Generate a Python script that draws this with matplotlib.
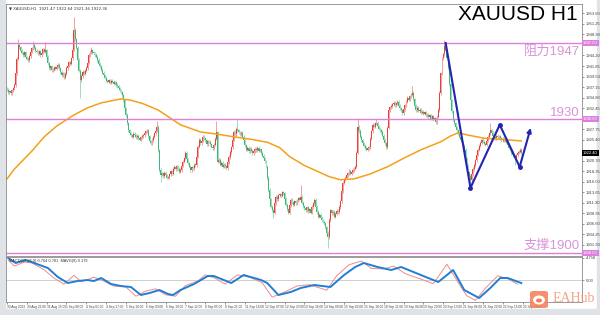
import numpy as np
import matplotlib
matplotlib.use("Agg")
from matplotlib import pyplot as plt
from matplotlib.patches import Rectangle, FancyBboxPatch, Ellipse

# hourly closes
closes = [
    1936.5, 1936.0, 1936.2, 1935.8, 1936.4, 1936.9, 1937.6, 1940.2, 1943.5, 1946.6,
    1946.0, 1945.2, 1944.8, 1944.3, 1944.9, 1943.8, 1943.5, 1943.2, 1944.1, 1945.0,
    1945.8, 1946.6, 1945.9, 1945.3, 1945.0, 1944.6, 1945.1, 1944.3, 1944.8, 1945.6,
    1945.0, 1945.4, 1943.9, 1942.5, 1941.4, 1941.8, 1940.9, 1941.0, 1941.6, 1941.2,
    1941.7, 1942.1, 1941.3, 1940.5, 1939.8, 1940.2, 1939.2, 1940.1, 1941.4, 1941.9,
    1942.7, 1942.4, 1943.6, 1945.5, 1949.9, 1947.8, 1945.9, 1943.2, 1940.8, 1938.7,
    1939.6, 1940.5, 1940.1, 1940.8, 1941.4, 1942.6, 1944.3, 1944.9, 1945.4, 1944.8,
    1944.7, 1944.3, 1943.9, 1943.2, 1942.4, 1941.8, 1941.0, 1940.3, 1939.8, 1939.2,
    1938.6, 1938.3, 1938.7, 1938.1, 1938.5, 1938.3, 1937.9, 1938.2, 1937.6, 1937.3,
    1936.9, 1936.4, 1936.0, 1935.3, 1934.2, 1932.4, 1930.9, 1929.0, 1927.5, 1926.8,
    1926.4, 1926.0, 1926.7, 1926.4, 1925.9, 1926.3, 1925.7, 1925.4, 1925.9, 1926.2,
    1926.4, 1926.9, 1927.2, 1927.5, 1926.1, 1925.0, 1924.6, 1925.3, 1926.0, 1926.8,
    1927.4, 1928.2, 1923.0, 1918.6, 1917.5, 1917.9, 1917.2, 1918.0, 1917.4, 1916.9,
    1917.0, 1917.6, 1918.3, 1917.8, 1918.9, 1919.3, 1918.7, 1919.4, 1918.9, 1918.2,
    1918.6, 1919.5, 1920.4, 1921.2, 1922.4, 1921.0, 1920.1, 1919.3, 1918.6, 1919.2,
    1919.0, 1919.8, 1919.7, 1921.6, 1923.8, 1925.3, 1924.6, 1925.1, 1926.0, 1925.7,
    1925.2, 1924.4, 1925.0, 1924.9, 1924.3, 1923.8, 1923.5, 1924.2, 1925.6, 1927.0,
    1920.4, 1920.9, 1919.8, 1920.2, 1919.3, 1919.8, 1919.4, 1919.0, 1920.3, 1921.5,
    1922.6, 1923.7, 1925.4, 1927.1, 1926.6, 1927.8, 1927.5, 1927.0, 1926.6, 1926.9,
    1926.0, 1925.2, 1924.1, 1923.1, 1923.6, 1922.8, 1923.3, 1922.9, 1922.4, 1922.8,
    1923.3, 1923.0, 1923.5, 1922.9, 1923.2, 1922.4, 1921.8, 1921.2, 1920.5, 1919.3,
    1916.8, 1914.1, 1912.0, 1910.4, 1909.6, 1909.0, 1911.2, 1912.6, 1912.0, 1912.9,
    1913.2, 1912.8, 1913.6, 1913.4, 1912.1, 1910.8, 1909.8, 1909.0, 1910.7, 1911.9,
    1911.4, 1910.8, 1911.6, 1911.2, 1911.8, 1912.3, 1911.9, 1912.6, 1911.3, 1910.5,
    1910.0, 1909.6, 1910.2, 1909.4, 1909.8, 1909.0, 1910.3, 1911.1, 1911.9, 1910.4,
    1909.2, 1908.1, 1908.6, 1907.9, 1907.3, 1907.0, 1906.7, 1905.8, 1904.6, 1903.5,
    1907.4, 1909.6, 1908.9, 1909.3, 1908.1, 1908.8, 1909.5, 1909.1, 1910.3, 1911.6,
    1913.8, 1915.7, 1916.4, 1916.9, 1917.4, 1917.9, 1918.4, 1917.8, 1918.2, 1918.6,
    1918.9, 1919.3, 1922.5, 1928.2, 1927.3, 1926.0, 1925.2, 1924.6, 1924.0, 1923.5,
    1923.1, 1923.4, 1923.7, 1925.6, 1927.2, 1928.7, 1928.3, 1929.0, 1929.1, 1928.4,
    1927.8, 1927.5, 1927.1, 1926.3, 1925.4, 1924.6, 1923.7, 1928.0, 1932.0, 1932.6,
    1932.9, 1933.3, 1933.6, 1933.1, 1933.5, 1933.8, 1933.0, 1932.4, 1931.9, 1931.3,
    1932.2, 1933.1, 1933.9, 1934.7, 1934.3, 1935.1, 1935.4, 1935.8, 1934.4, 1933.0,
    1932.0, 1932.5, 1931.8, 1932.1, 1931.4, 1931.6, 1931.2, 1931.5, 1930.8, 1930.9,
    1930.4, 1930.8, 1930.1, 1930.6, 1929.8, 1930.2, 1929.3, 1930.5, 1932.0, 1935.8,
    1940.2, 1943.6, 1944.5, 1946.4, 1945.2, 1943.6, 1941.4, 1937.8, 1934.2, 1931.7,
    1929.8, 1929.0, 1928.1, 1927.5, 1926.7, 1926.0, 1925.3, 1924.8, 1924.0, 1923.1,
    1921.2, 1919.5, 1918.1, 1917.3, 1916.4, 1917.6, 1918.8, 1919.7, 1920.8, 1922.0,
    1923.1, 1924.0, 1924.7, 1925.3, 1924.9, 1924.5, 1924.2, 1925.1, 1926.0, 1926.8,
    1927.5, 1926.9, 1926.2, 1925.8, 1925.7, 1926.3, 1925.9, 1926.1, 1925.7, 1925.2,
    1925.6, 1925.1, 1925.3, 1924.7, 1924.2, 1923.6, 1923.1, 1922.4, 1921.9, 1921.6,
    1921.3, 1921.9, 1922.5, 1922.7, 1923.1, 1922.4,
]
first_open = 1936.9
high_spikes = {9: 1947.9, 21: 1947.5, 31: 1947.3, 54: 1952.8, 68: 1946.2, 121: 1929.5,
               169: 1929.6, 186: 1930.3, 237: 1915.2, 283: 1930.3, 298: 1930.0,
               327: 1937.3, 353: 1947.6, 390: 1929.0}
low_spikes = {59: 1934.6, 124: 1916.0, 215: 1907.9, 259: 1901.1, 374: 1914.6, 410: 1919.8}

# moving average (orange)
ma_bars = [0, 6, 13, 21, 30, 40, 54, 65, 76, 92, 100, 110, 122, 140, 156, 170, 183, 196,
           210, 220, 228, 240, 248, 260, 269, 280, 292, 307, 320, 334, 350, 358, 364, 372,
           385, 400, 415]
ma_vals = [1916.6, 1918.8, 1920.8, 1923.1, 1926.0, 1928.4, 1930.9, 1932.5, 1933.6, 1934.5,
           1934.2, 1933.4, 1932.0, 1928.7, 1927.1, 1926.6, 1926.0, 1925.5, 1924.8, 1923.6,
           1921.6, 1919.6, 1918.6, 1917.1, 1916.4, 1916.6, 1917.6, 1919.3, 1921.2, 1923.1,
           1924.9, 1926.2, 1926.9, 1926.4, 1925.7, 1925.4, 1925.1]

# oscillator, blue main and pink signal
blue_bars = [1, 7, 15, 22, 33, 41, 49, 57, 65, 70, 76, 84, 92, 100, 108, 115, 123, 130,
             134, 140, 151, 162, 167, 181, 191, 205, 210, 219, 229, 237, 248, 261, 272,
             281, 288, 299, 310, 318, 328, 340, 348, 360, 369, 381, 390, 398, 404, 415]
blue_vals = [4.75, 3.67, 4.32, 3.67, 2.59, 0.65, -0.65, -0.22, 0.0, -0.22, 0.43, -0.86,
             -1.30, -1.51, -3.24, -2.81, -2.16, -3.02, -3.24, -2.16, -0.86, 0.86, 0.86,
             -0.65, 1.08, 0.0, -0.65, -3.24, -2.59, -1.73, -1.08, -1.51, 1.08, 2.81, 3.67,
             2.81, 2.16, 2.81, 1.73, 0.43, -0.43, 2.16, -2.16, -3.89, -1.73, 0.43, 0.43,
             -0.65]
pink_bars = [1, 6, 14, 20, 30, 38, 46, 54, 60, 70, 78, 86, 96, 104, 112, 120, 128, 136,
             144, 154, 160, 168, 176, 186, 196, 206, 214, 224, 234, 244, 258, 266, 276,
             286, 294, 304, 312, 322, 334, 344, 355, 364, 371, 378, 386, 396, 404, 412]
pink_vals = [4.3, 3.0, 3.9, 3.7, 2.2, 0.4, -0.9, 1.0, -0.4, 0.6, -0.2, -1.3, -1.5, -3.5,
             -2.4, -1.9, -3.2, -3.5, -1.2, -0.2, 1.1, 0.4, -0.9, 1.1, 0.6, -0.6, -3.7,
             -2.6, -1.3, -1.0, -2.2, 0.9, 3.3, 4.1, 2.5, 2.4, 3.0, 1.3, 0.2, -0.8, 3.4,
             -0.5, -3.4, -4.4, -1.8, 0.9, 0.3, -0.9]

# hand drawn zigzag
zig_bars = [354, 374, 397.6, 413.7, 422.6]
zig_vals = [1947.0, 1914.6, 1928.7, 1919.3, 1928.0]

levels = [1947, 1930, 1900]
level_texts = ["阻力1947", "1930", "支撑1900"]
level_text_y = [1945.0, 1931.4, 1901.7]

date_labels = ["30 Aug 2023", "30 Aug 22:00", "31 Aug 15:00", "1 Sep 08:00", "4 Sep 01:00",
               "4 Sep 17:00", "5 Sep 10:00", "6 Sep 03:00", "6 Sep 19:00", "7 Sep 12:00",
               "8 Sep 05:00", "8 Sep 21:00", "11 Sep 14:00", "12 Sep 07:00", "12 Sep 23:00",
               "13 Sep 16:00", "14 Sep 09:00", "15 Sep 02:00", "15 Sep 18:00", "18 Sep 11:00",
               "19 Sep 04:00", "19 Sep 20:00", "20 Sep 13:00", "21 Sep 06:00", "21 Sep 22:00",
               "22 Sep 15:00", "25 Sep 08:00"]

UP = "#e8413c"
DOWN = "#3cb878"
PINK = "#dd7fdd"
FONT = ["Liberation Sans", "Noto Sans CJK SC", "DejaVu Sans"]

plt.rcParams["font.family"] = FONT

fig = plt.figure(figsize=(6, 3.15), dpi=100)
fig.patches.append(Rectangle((0, 0), 5 / 600, 1, transform=fig.transFigure,
                             color="#dfe3e8", zorder=-1))
fig.patches.append(Rectangle((0, 0), 1, 6 / 315, transform=fig.transFigure,
                             color="#dfe3e8", zorder=-1))
fig.patches.append(Rectangle((597 / 600, 0), 3 / 600, 1, transform=fig.transFigure,
                             color="#dfe3e8", zorder=-1))

ax = fig.add_axes([6 / 600, 1 - 256 / 315, 576 / 600, 252 / 315])
ax2 = fig.add_axes([6 / 600, 1 - 302 / 315, 576 / 600, 45 / 315])

c = np.array(closes)
idx = np.arange(len(c))
o = np.r_[first_open, c[:-1]]
hi = np.maximum(o, c) + 0.35
lo = np.minimum(o, c) - 0.35
for k, v in high_spikes.items():
    hi[k] = v
for k, v in low_spikes.items():
    lo[k] = v
up = c >= o
cols = np.where(up, UP, DOWN)
ax.vlines(idx, lo, hi, colors=cols, lw=0.5, alpha=0.7)
body = np.where(np.abs(c - o) < 0.15, 0.15, c - o)
ax.bar(idx, body, bottom=o, width=0.75, color=cols, linewidth=0)

ax.plot(ma_bars, ma_vals, color="#f5a01a", lw=1.1)

for lv in levels:
    ax.axhline(lv, color=PINK, lw=1.0)
for txt, ty in zip(level_texts, level_text_y):
    ax.text(0.9965, ty, txt, transform=ax.get_yaxis_transform(), ha="right", va="center",
            fontsize=9.5, color="#d894d8", family=FONT)

ax.plot(zig_bars[:-1], zig_vals[:-1], color="#2424b4", lw=1.5, zorder=5)
ax.annotate("", xy=(zig_bars[-1], zig_vals[-1]), xytext=(zig_bars[-2], zig_vals[-2]),
            arrowprops=dict(arrowstyle="-|>", color="#2424b4", lw=1.5,
                            mutation_scale=6, shrinkA=0, shrinkB=0), zorder=5)
ax.plot(zig_bars[1:4], zig_vals[1:4], "o", color="#2424b4", ms=2.5, zorder=6)

ax.text(0.993, 0.997, "XAUUSD H1", transform=ax.transAxes, ha="right", va="top",
        fontsize=15, color="black")
ax.text(0.005, 0.992, "▼ XAUUSD,H1  1921.47 1922.64 1921.36 1922.36",
        transform=ax.transAxes, ha="left", va="top", fontsize=2.8, color="#333333",
        family=["DejaVu Sans"])

xmax = 464
ax.set_xlim(-0.8, xmax)
ax.set_ylim(1899.35, 1955.72)
ax.set_xticks([])
ax.yaxis.tick_right()
# keep the tick labels clear of the price boxes
boxed = levels + [c[-1]]
yt = [t for t in np.arange(1901.90, 1955, 2.35) if min(abs(t - b) for b in boxed) > 1.6]
ax.set_yticks(yt)
ax.yaxis.set_major_formatter(matplotlib.ticker.FormatStrFormatter("%.2f"))
ax.tick_params(axis="y", labelsize=3, length=1.5, width=0.4, pad=1, colors="#444444")

# price boxes on the right axis
for lv in levels:
    ax.text(1.0015, lv, "%.2f" % lv, transform=ax.get_yaxis_transform(), ha="left",
            va="center", fontsize=3, color="white", zorder=10, clip_on=False,
            bbox=dict(boxstyle="square,pad=0.25", fc=PINK, ec="none"))
ax.text(1.0015, c[-1], "%.2f" % c[-1], transform=ax.get_yaxis_transform(), ha="left",
        va="center", fontsize=3, color="white", zorder=10, clip_on=False,
        bbox=dict(boxstyle="square,pad=0.25", fc="black", ec="none"))

ax2.axhline(0, color="#c8c8c8", lw=0.6)
ax2.plot(pink_bars, pink_vals, color="#f08a8a", lw=0.7)
ax2.plot(blue_bars, blue_vals, color="#1f7fd6", lw=1.4)
ax2.set_xlim(-0.8, xmax)
ax2.set_ylim(-4.75, 4.97)
ax2.yaxis.tick_right()
ax2.set_yticks([4.758, 0.0])
ax2.set_yticklabels(["4.758", "0.00"])
ax2.tick_params(axis="y", labelsize=3, length=1.5, width=0.4, pad=1, colors="#444444")
ax2.set_xticks(np.arange(len(date_labels)) * 16)
ax2.set_xticklabels(date_labels, ha="left")
ax2.tick_params(axis="x", labelsize=2.3, length=1.5, width=0.4, pad=0.8, colors="#444444")
ax2.text(0.005, 0.96, "MACD(12,26,9) 0.764 0.781  MAVG(9) 0.179", transform=ax2.transAxes,
         ha="left", va="top", fontsize=2.8, color="#333333")

for a in (ax, ax2):
    for s in a.spines.values():
        s.set_color("#8a8a8a")
        s.set_linewidth(0.6)

# EAHub logo
fig.patches.append(FancyBboxPatch((530 / 600, 1 - 308 / 315), 18 / 600, 17 / 315,
                                  boxstyle="round,pad=0,rounding_size=0.006",
                                  transform=fig.transFigure, fc="#f47d55", ec="none",
                                  alpha=0.85, zorder=20))
fig.patches.append(Ellipse((539 / 600, 1 - 300 / 315), 12 / 600, 9 / 315,
                           transform=fig.transFigure, fc="white", ec="none", zorder=21))
fig.patches.append(Ellipse((539 / 600, 1 - 300.5 / 315), 6 / 600, 4 / 315,
                           transform=fig.transFigure, fc="#f47d55", ec="none", zorder=22))
fig.text(553 / 600, 1 - 299 / 315, "EAHub", ha="left", va="center", fontsize=10,
         color="#f39a78", family=["Liberation Serif"], alpha=0.9, zorder=20)

fig.savefig("out.png", dpi=100)
